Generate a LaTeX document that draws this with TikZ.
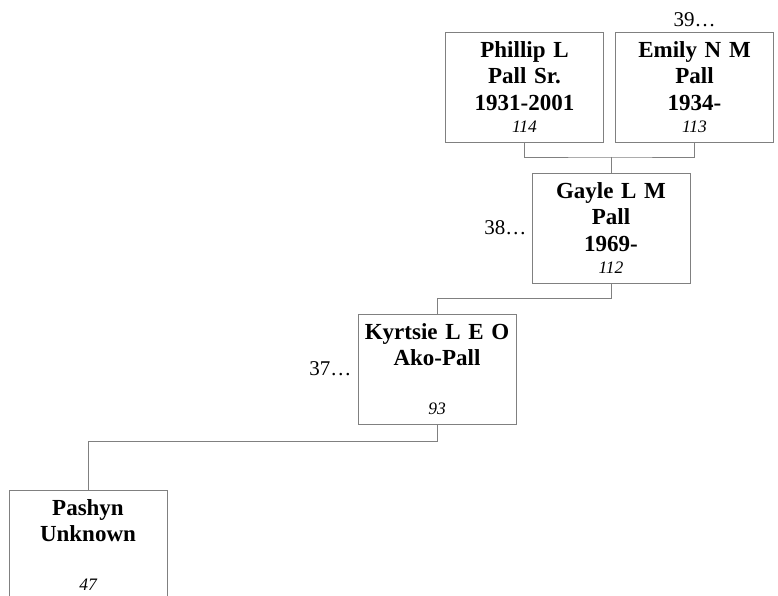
\documentclass[tikz,border=0pt]{standalone}
\usepackage{fontspec}
\setmainfont{Liberation Serif}
\usetikzlibrary{positioning}
\colorlet{lnx}{black!50}
\newcommand{\refno}[1]{{\mdseries\itshape\fontsize{17.5}{20}\selectfont #1}}

\begin{document}
\begin{tikzpicture}[
        x=1pt, y=-1pt,
        person/.style={draw=lnx, line width=0.8pt, minimum width=158pt, minimum height=110pt,
            text width=152pt, align=center, inner sep=0pt,
            font=\fontsize{23}{26.5}\selectfont\bfseries},
        gen/.style={inner sep=0pt, font=\fontsize{21}{24}\selectfont},
        link/.style={draw=lnx, line width=0.8pt}
    ]
        \useasboundingbox (0,0) rectangle (778,596);
        \clip (0,0) rectangle (778,596);

        % boxes
        \node [person] (phillip) at (524.5,87) {Phillip L\\Pall Sr.\\1931-2001\\[-4.5pt]\refno{114}};
        \node [person] (emily) at (694.5,87) {Emily N M\\Pall\\1934-\\[-4.5pt]\refno{113}};
        \node [person] (gayle) at (611,228) {Gayle L M\\Pall\\1969-\\[-4.5pt]\refno{112}};
        \node [person] (kyrtsie) at (437,369) {Kyrtsie L E O\\Ako-Pall\\\mbox{}\\[-4.5pt]\refno{93}};
        \node [person] (pashyn) at (88,545) {Pashyn\\Unknown\\\mbox{}\\[-4.5pt]\refno{47}};

        % generation marks
        \node [gen, above=5pt of emily] (gen39) {39…};
        \node [gen, left=5pt of gayle] (gen38) {38…};
        \node [gen, left=6pt of kyrtsie] (gen37) {37…};

        % links
        \coordinate (j1) at (611,157);
        \coordinate (j2) at (437,298);
        \coordinate (j3) at (88,441);
        \draw [link] (phillip.south) |- (j1) -| (emily.south);
        \draw [link] (j1) -- (gayle.north);
        \draw [link] (gayle.south) |- (j2) -- (kyrtsie.north);
        \draw [link] (kyrtsie.south) |- (j3) -- (pashyn.north);
    \end{tikzpicture}
\end{document}
